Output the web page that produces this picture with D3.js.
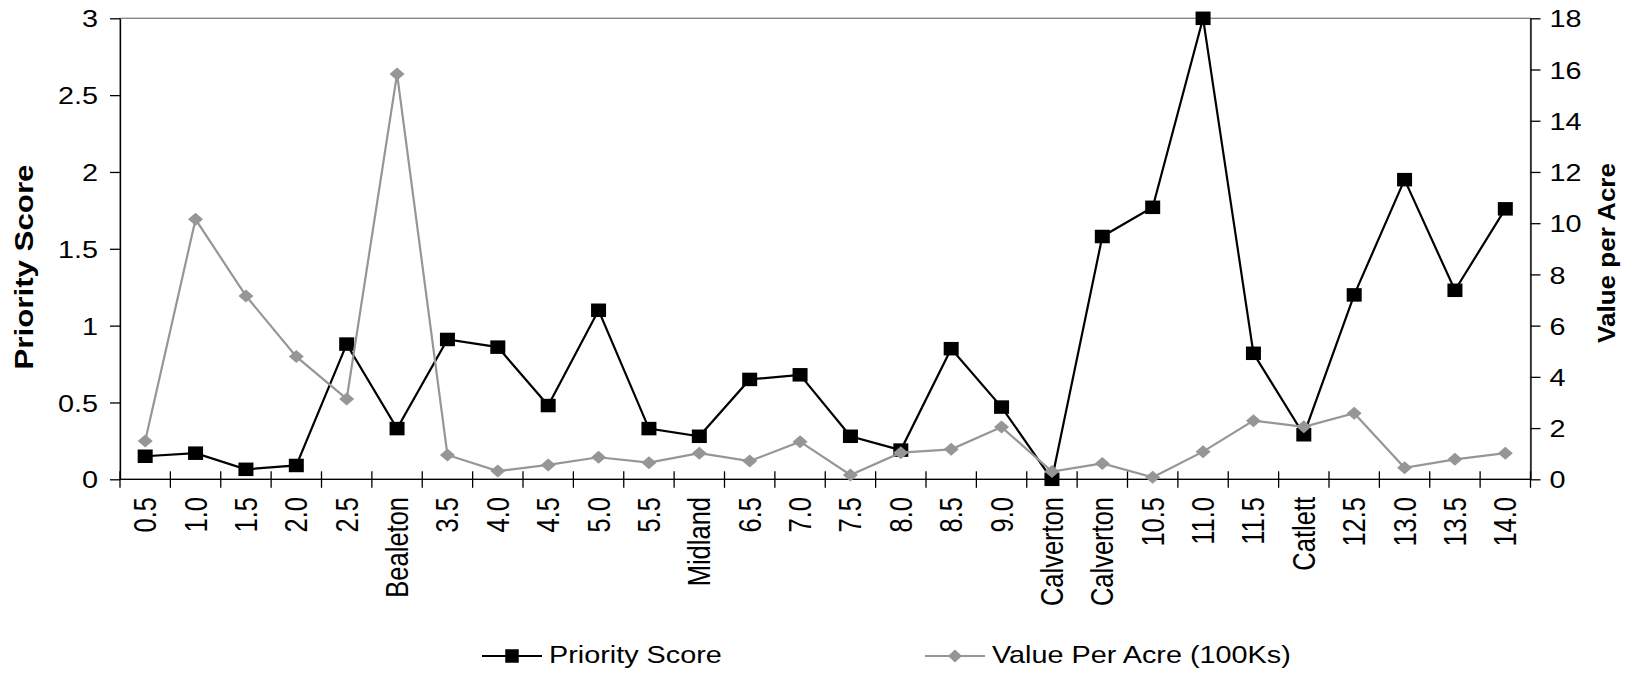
<!DOCTYPE html>
<html>
<head>
<meta charset="utf-8">
<script src="https://cdn.jsdelivr.net/npm/d3@7"></script>
<style>
  html, body { margin: 0; padding: 0; background: #fff; }
  svg { display: block; }
  text { font-family: "Liberation Sans", Arial, Helvetica, sans-serif; fill: #000; }
</style>
</head>
<body>
<svg id="chart" width="1634" height="673"></svg>
<script>
// Stations along the route (two entries share the name Calverton)
const categories = ["0.5","1.0","1.5","2.0","2.5","Bealeton","3.5","4.0","4.5","5.0","5.5","Midland","6.5","7.0","7.5","8.0","8.5","9.0","Calverton","Calverton","10.5","11.0","11.5","Catlett","12.5","13.0","13.5","14.0"];

// Priority Score (left axis)
const priorityScore = [0.15,0.17,0.065,0.09,0.88,0.33,0.91,0.86,0.48,1.10,0.33,0.28,0.65,0.68,0.28,0.19,0.85,0.47,0.00,1.58,1.77,3.00,0.82,0.29,1.20,1.95,1.23,1.76];

// Value Per Acre in 100Ks (right axis)
const valuePerAcre = [1.50,10.15,7.16,4.79,3.14,15.83,0.95,0.32,0.56,0.86,0.65,1.02,0.71,1.47,0.17,1.04,1.17,2.04,0.30,0.62,0.08,1.08,2.29,2.05,2.58,0.45,0.78,1.02];

const leftTicks = [0, 0.5, 1, 1.5, 2, 2.5, 3];
const rightTicks = [0, 2, 4, 6, 8, 10, 12, 14, 16, 18];

const seriesNames = ["Priority Score", "Value Per Acre (100Ks)"];
const leftTitle = "Priority Score";
const rightTitle = "Value per Acre";

const GRAY = "#969696";
const SX = 1.2; // glyphs are drawn slightly wide

const plot = { left: 120, right: 1530.5, top: 18.3, bottom: 479.3 };
const svg = d3.select("#chart");

const x = d3.scaleBand().domain(d3.range(categories.length)).range([plot.left, plot.right]);
const cx = i => x(i) + x.bandwidth() / 2;
const yL = d3.scaleLinear().domain([0, 3]).range([plot.bottom, plot.top]);
const yR = d3.scaleLinear().domain([0, 18]).range([plot.bottom, plot.top]);

// plot area frame
svg.append("rect")
  .attr("x", plot.left).attr("y", plot.top)
  .attr("width", plot.right - plot.left).attr("height", plot.bottom - plot.top)
  .attr("fill", "none").attr("stroke", "#808080").attr("stroke-width", 1.3);

// left axis
const gL = svg.append("g")
  .attr("transform", `translate(${plot.left},0)`)
  .call(d3.axisLeft(yL).tickValues(leftTicks).tickSize(10).tickSizeOuter(0).tickFormat(d => String(d)));
gL.attr("font-size", 24).attr("font-family", null);
gL.select(".domain").attr("stroke", "#000").attr("stroke-width", 1.3);
gL.selectAll(".tick line").attr("stroke", "#000").attr("stroke-width", 1.3);
gL.selectAll(".tick text")
  .attr("x", null).attr("dy", "0.36em")
  .attr("transform", `translate(-22,0) scale(${SX},1)`);

// right axis
const gR = svg.append("g")
  .attr("transform", `translate(${plot.right},0)`)
  .call(d3.axisRight(yR).tickValues(rightTicks).tickSize(10).tickSizeOuter(0).tickFormat(d => String(d)));
gR.attr("font-size", 24).attr("font-family", null);
gR.select(".domain").attr("stroke", "#000").attr("stroke-width", 1.3);
gR.selectAll(".tick line").attr("stroke", "#000").attr("stroke-width", 1.3);
gR.selectAll(".tick text")
  .attr("x", null).attr("dy", "0.36em")
  .attr("transform", `translate(19,0) scale(${SX},1)`);

// category axis: baseline with crossing tick marks at category boundaries
const boundaries = categories.map((_, i) => x(i)).concat(x.range()[1]);
const gX = svg.append("g");
gX.append("line")
  .attr("x1", plot.left).attr("x2", plot.right)
  .attr("y1", yL(0)).attr("y2", yL(0))
  .attr("stroke", "#000").attr("stroke-width", 1.3);
gX.selectAll("line.tick").data(boundaries).join("line")
  .attr("class", "tick")
  .attr("x1", d => d).attr("x2", d => d)
  .attr("y1", yL(0) - 8).attr("y2", yL(0) + 8.5)
  .attr("stroke", "#000").attr("stroke-width", 1.3);
gX.selectAll("text").data(categories).join("text")
  .attr("transform", (d, i) => `translate(${cx(i)},497) scale(${SX},1) rotate(-90)`)
  .attr("text-anchor", "end").attr("dy", "0.36em")
  .attr("font-size", 25.5)
  .text(d => d);

// Priority Score series
svg.append("path")
  .datum(priorityScore)
  .attr("d", d3.line().x((d, i) => cx(i)).y(d => yL(d)))
  .attr("fill", "none").attr("stroke", "#000").attr("stroke-width", 2.2)
  .attr("stroke-linejoin", "miter");
svg.append("g").selectAll("rect").data(priorityScore).join("rect")
  .attr("x", (d, i) => cx(i) - 7.5).attr("y", d => yL(d) - 6.75)
  .attr("width", 15).attr("height", 13.5)
  .attr("fill", "#000");

// Value Per Acre series
const diamond = (px, py, w, h) => `M${px},${py - h}L${px + w},${py}L${px},${py + h}L${px - w},${py}Z`;
svg.append("path")
  .datum(valuePerAcre)
  .attr("d", d3.line().x((d, i) => cx(i)).y(d => yR(d)))
  .attr("fill", "none").attr("stroke", GRAY).attr("stroke-width", 2.2);
svg.append("g").selectAll("path").data(valuePerAcre).join("path")
  .attr("d", (d, i) => diamond(cx(i), yR(d), 7.5, 6.5))
  .attr("fill", GRAY);

// axis titles, both reading bottom to top
svg.append("text")
  .attr("transform", "translate(33,267) rotate(-90)")
  .attr("text-anchor", "middle")
  .attr("font-size", 25).attr("font-weight", "bold")
  .attr("textLength", 205).attr("lengthAdjust", "spacingAndGlyphs")
  .text(leftTitle);
svg.append("text")
  .attr("transform", "translate(1615,253) rotate(-90)")
  .attr("text-anchor", "middle")
  .attr("font-size", 23).attr("font-weight", "bold")
  .attr("textLength", 180).attr("lengthAdjust", "spacingAndGlyphs")
  .text(rightTitle);

// legend
const legend = svg.append("g");
const legendItems = [
  { name: seriesNames[0], x0: 482, color: "#000", marker: "square" },
  { name: seriesNames[1], x0: 925, color: GRAY, marker: "diamond" }
];
legendItems.forEach(it => {
  const ly = 656;
  legend.append("line")
    .attr("x1", it.x0).attr("x2", it.x0 + 60)
    .attr("y1", ly).attr("y2", ly)
    .attr("stroke", it.color).attr("stroke-width", 2.2);
  if (it.marker === "square") {
    legend.append("rect")
      .attr("x", it.x0 + 30 - 6.75).attr("y", ly - 6.75)
      .attr("width", 13.5).attr("height", 13.5).attr("fill", it.color);
  } else {
    legend.append("path").attr("d", diamond(it.x0 + 30, ly, 7, 6.5)).attr("fill", it.color);
  }
  legend.append("text")
    .attr("transform", `translate(${it.x0 + 67},663) scale(${SX},1)`)
    .attr("font-size", 24)
    .text(it.name);
});
</script>
</body>
</html>
